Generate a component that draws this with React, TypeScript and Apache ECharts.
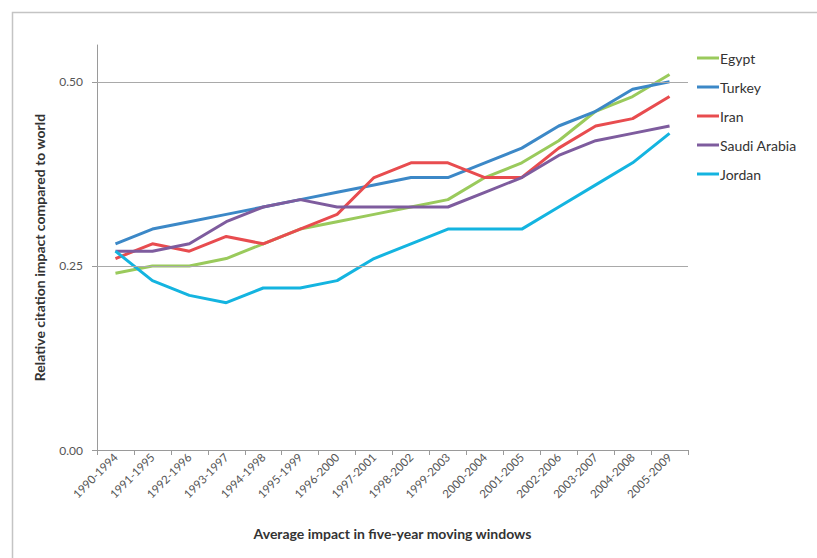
import React, { useEffect, useRef } from "react";
import * as echarts from "echarts";

const categories = [
  "1990-1994", "1991-1995", "1992-1996", "1993-1997", "1994-1998", "1995-1999",
  "1996-2000", "1997-2001", "1998-2002", "1999-2003", "2000-2004", "2001-2005",
  "2002-2006", "2003-2007", "2004-2008", "2005-2009",
];

const egypt = [0.24, 0.25, 0.25, 0.26, 0.28, 0.30, 0.31, 0.32, 0.33, 0.34, 0.37, 0.39, 0.42, 0.46, 0.48, 0.51];
const turkey = [0.28, 0.30, 0.31, 0.32, 0.33, 0.34, 0.35, 0.36, 0.37, 0.37, 0.39, 0.41, 0.44, 0.46, 0.49, 0.50];
const iran = [0.26, 0.28, 0.27, 0.29, 0.28, 0.30, 0.32, 0.37, 0.39, 0.39, 0.37, 0.37, 0.41, 0.44, 0.45, 0.48];
const saudiArabia = [0.27, 0.27, 0.28, 0.31, 0.33, 0.34, 0.33, 0.33, 0.33, 0.33, 0.35, 0.37, 0.40, 0.42, 0.43, 0.44];
const jordan = [0.27, 0.23, 0.21, 0.20, 0.22, 0.22, 0.23, 0.26, 0.28, 0.30, 0.30, 0.30, 0.33, 0.36, 0.39, 0.43];

const yTicks = [0, 0.25, 0.5];
const gridValues = [0.25, 0.5];

const seriesDefs = [
  { name: "Egypt", data: egypt, color: "#9ACA5C" },
  { name: "Turkey", data: turkey, color: "#3C88C7" },
  { name: "Iran", data: iran, color: "#E84C4F" },
  { name: "Saudi Arabia", data: saudiArabia, color: "#7E5C9E" },
  { name: "Jordan", data: jordan, color: "#14B4E0" },
];

const FONT = "Lato, 'Noto Sans', sans-serif";

export default function App() {
  const ref = useRef<HTMLDivElement>(null);

  useEffect(() => {
    document.body.style.margin = "0";
    if (!ref.current) return;
    const chart = echarts.init(ref.current, null, { renderer: "svg" });
    chart.setOption({
      animation: false,
      backgroundColor: "#ffffff",
      graphic: [
        {
          type: "rect",
          left: 10,
          top: 10,
          shape: { width: 900, height: 700 },
          style: { fill: "none", stroke: "#c4c4c4", lineWidth: 1.5 },
          silent: true,
          z: -1,
        },
      ],
      grid: { left: 97, right: 129, top: 45, bottom: 108, containLabel: false },
      legend: {
        orient: "vertical",
        left: 697,
        top: 51,
        padding: 0,
        itemWidth: 22,
        itemHeight: 3,
        itemGap: 15,
        icon: "rect",
        data: seriesDefs.map((s) => s.name),
        textStyle: { fontFamily: FONT, fontSize: 14, color: "#333", padding: [0, 0, 0, -4] },
      },
      xAxis: {
        type: "category",
        data: categories,
        boundaryGap: true,
        name: "Average impact in five-year moving windows",
        nameLocation: "middle",
        nameGap: 76,
        nameTextStyle: { fontFamily: FONT, fontSize: 14, fontWeight: "bold", color: "#333" },
        axisLine: { show: true, lineStyle: { color: "#9a9a9a", width: 1 } },
        axisTick: { show: true, alignWithLabel: false, length: 5, lineStyle: { color: "#9a9a9a" } },
        axisLabel: {
          rotate: 45,
          interval: 0,
          fontFamily: FONT,
          fontSize: 11.5,
          color: "#555",
          margin: 5,
        },
        splitLine: { show: false },
      },
      yAxis: {
        type: "value",
        min: 0,
        max: 0.55,
        interval: 0.25,
        name: "Relative citation impact compared to world",
        nameLocation: "middle",
        nameGap: 51,
        nameRotate: 90,
        nameTextStyle: { fontFamily: FONT, fontSize: 14, fontWeight: "bold", color: "#333" },
        axisLine: { show: true, lineStyle: { color: "#9a9a9a", width: 1 } },
        axisTick: { show: true, length: 5, inside: false, customValues: yTicks, lineStyle: { color: "#9a9a9a" } },
        axisLabel: {
          customValues: yTicks,
          formatter: (v: number) => v.toFixed(2),
          fontFamily: FONT,
          fontSize: 12,
          color: "#555",
          margin: 14,
        },
        splitLine: { show: false },
      },
      series: [
        {
          type: "line",
          name: "__grid",
          data: [],
          silent: true,
          z: 1,
          markLine: {
            silent: true,
            symbol: ["none", "none"],
            label: { show: false },
            lineStyle: { color: "#a9a9a9", type: "solid", width: 1 },
            data: gridValues.map((v) => ({ yAxis: v })),
          },
        },
        ...seriesDefs.map((s) => ({
          type: "line",
          name: s.name,
          data: s.data,
          color: s.color,
          showSymbol: false,
          symbol: "none",
          lineStyle: { width: 3, color: s.color },
          z: 3,
        })),
      ],
    });
    return () => chart.dispose();
  }, []);

  return <div ref={ref} style={{ width: 817, height: 558 }} />;
}
